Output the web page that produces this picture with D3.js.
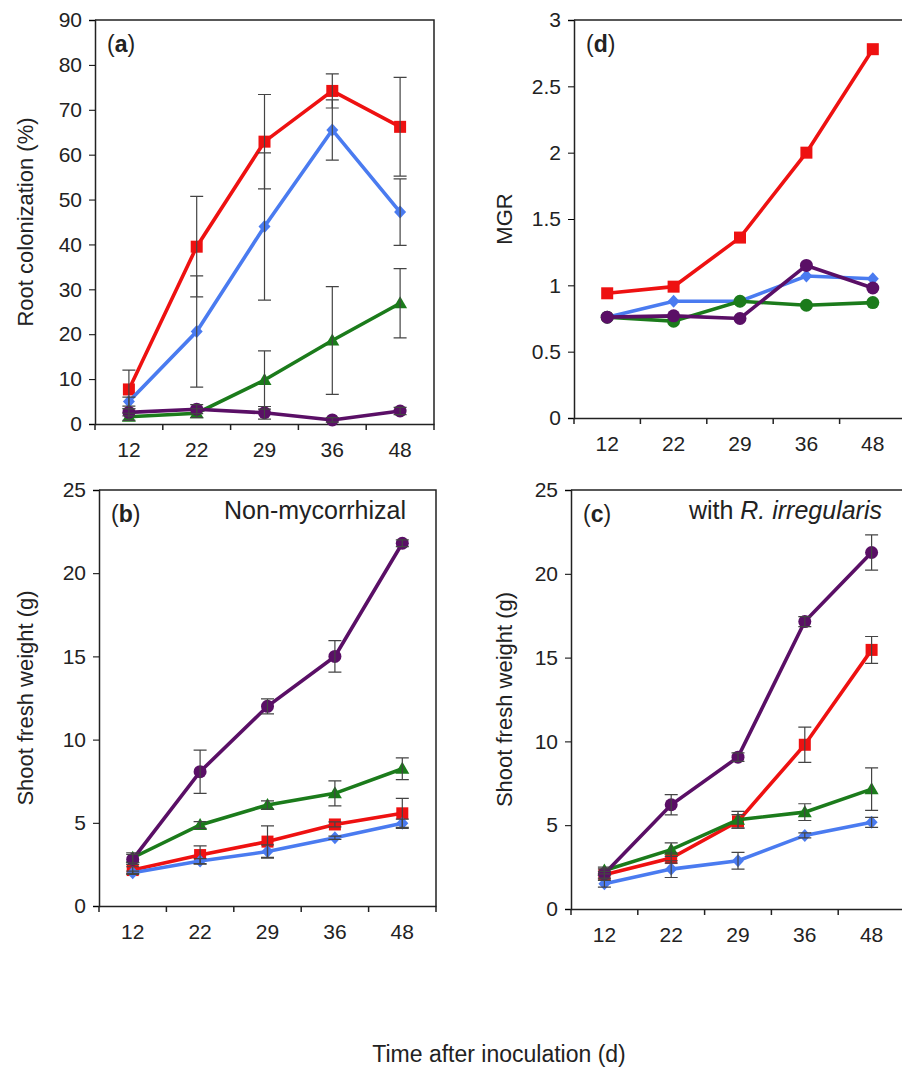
<!DOCTYPE html>
<style>
body { margin: 0; background: #fff; }
svg { font-family: "Liberation Sans", Arial, sans-serif; }
</style>
<svg width="902" height="1073"></svg>
<script src="https://cdnjs.cloudflare.com/ajax/libs/d3/7.8.5/d3.min.js"></script>
<script>
const svg = d3.select("svg");

const days = ["12", "22", "29", "36", "48"];

// (a) root colonization (%)
const aRed = [7.7, 39.5, 62.9, 74.2, 66.2];
const aRedErr = [4.3, 11.2, 10.5, 3.8, 11.0];
const aBlue = [5.0, 20.6, 44.0, 65.5, 47.2];
const aBlueErr = [1.0, 12.4, 16.4, 6.7, 7.4];
const aGreen = [1.6, 2.4, 9.8, 18.6, 26.9];
const aGreenErr = [0.8, 1.0, 6.5, 12.0, 7.7];
const aPurple = [2.6, 3.3, 2.5, 0.9, 2.9];
const aPurpleErr = [0.8, 1.0, 1.4, 0.5, 0.8];

// (d) MGR
const dRed = [0.94, 0.99, 1.36, 2.0, 2.78];
const dBlue = [0.76, 0.88, 0.88, 1.07, 1.05];
const dGreen = [0.76, 0.73, 0.88, 0.85, 0.87];
const dPurple = [0.76, 0.77, 0.75, 1.15, 0.98];

// (b) shoot fresh weight, non-mycorrhizal
const bRed = [2.16, 3.06, 3.87, 4.9, 5.57];
const bRedErr = [0.2, 0.55, 0.95, 0.15, 0.9];
const bBlue = [2.0, 2.7, 3.27, 4.1, 4.97];
const bBlueErr = [0.1, 0.15, 0.4, 0.1, 0.25];
const bGreen = [2.9, 4.87, 6.07, 6.77, 8.25];
const bGreenErr = [0.3, 0.2, 0.25, 0.75, 0.65];
const bPurple = [2.8, 8.07, 12.0, 15.0, 21.8];
const bPurpleErr = [0.3, 1.3, 0.45, 0.95, 0.2];

// (c) shoot fresh weight, with R. irregularis
const cRed = [2.05, 3.04, 5.23, 9.8, 15.46];
const cRedErr = [0.2, 0.3, 0.4, 1.05, 0.8];
const cBlue = [1.51, 2.38, 2.88, 4.39, 5.17];
const cBlueErr = [0.2, 0.5, 0.5, 0.15, 0.3];
const cGreen = [2.3, 3.54, 5.33, 5.78, 7.15];
const cGreenErr = [0.2, 0.4, 0.5, 0.5, 1.27];
const cPurple = [2.1, 6.22, 9.06, 17.15, 21.27];
const cPurpleErr = [0.3, 0.6, 0.25, 0.3, 1.05];

const colors = { red: "#ee1111", blue: "#4a7bf0", green: "#1b7b1b", purple: "#5a0f66" };

function marker(g, shape, color) {
	if (shape === "square") {
		g.append("rect").attr("x", -6).attr("y", -6).attr("width", 12).attr("height", 12).attr("fill", color);
	} else if (shape === "diamond") {
		g.append("path").attr("d", "M0,-6.5L6,0L0,6.5L-6,0Z").attr("fill", color);
	} else if (shape === "triangle") {
		g.append("path").attr("d", "M0,-7L7,5L-7,5Z").attr("fill", color);
	} else {
		g.append("circle").attr("r", 6.5).attr("fill", color);
	}
}

function panel(p) {
	const x = d3.scaleBand().domain(days).range([p.left, p.right]);
	const y = d3.scaleLinear().domain([0, p.max]).range([p.bottom, p.top]);
	const g = svg.append("g");

	// frame
	g.append("path")
		.attr("d", `M${p.left},${p.top}H${p.right}V${p.bottom}`)
		.attr("fill", "none").attr("stroke", "#222").attr("stroke-width", 1.5);

	const yAxis = g.append("g")
		.attr("transform", `translate(${p.left},0)`)
		.call(d3.axisLeft(y).tickValues(p.ticks).tickSize(6).tickPadding(7).tickFormat(d => String(d)));
	yAxis.selectAll("text").attr("font-size", 21).attr("fill", "#222");

	const xAxis = g.append("g")
		.attr("transform", `translate(0,${p.bottom})`)
		.call(d3.axisBottom(x).tickSize(0).tickPadding(14));
	xAxis.selectAll(".tick").remove();
	xAxis.selectAll(".lbl").data(days).enter().append("text")
		.attr("x", d => x(d) + x.bandwidth() / 2).attr("y", 33)
		.attr("text-anchor", "middle").attr("font-size", 21).attr("fill", "#222")
		.text(d => d);
	xAxis.selectAll(".bt").data(days.concat(["end"])).enter().append("line")
		.attr("x1", d => d === "end" ? p.right : x(d)).attr("x2", d => d === "end" ? p.right : x(d))
		.attr("y1", 0).attr("y2", 6).attr("stroke", "#222").attr("stroke-width", 1.5);
	g.selectAll(".domain").attr("stroke", "#222").attr("stroke-width", 1.5);

	const cx = d => x(d) + x.bandwidth() / 2;
	const line = d3.line().x(d => cx(d.day)).y(d => y(d.v));

	p.series.forEach(s => {
		const pts = days.map((d, i) => ({ day: d, v: s.values[i] }));
		g.append("path").datum(pts)
			.attr("d", line).attr("fill", "none")
			.attr("stroke", colors[s.color]).attr("stroke-width", 3.6);
		pts.forEach(pt => marker(g.append("g").attr("transform", `translate(${cx(pt.day)},${y(pt.v)})`), s.shape, colors[s.color]));
	});

	// error bars on top
	p.series.forEach(s => {
		if (!s.err) return;
		days.forEach((d, i) => {
			const hi = y(s.values[i] + s.err[i]), lo = y(Math.max(0, s.values[i] - s.err[i]));
			g.append("path")
				.attr("d", `M${cx(d)},${hi}V${lo}M${cx(d) - 6.5},${hi}h13M${cx(d) - 6.5},${lo}h13`)
				.attr("fill", "none").attr("stroke", "#444").attr("stroke-width", 1.2);
		});
	});

	g.append("text")
		.attr("transform", `translate(${p.titleX},${(p.top + p.bottom) / 2}) rotate(-90)`)
		.attr("text-anchor", "middle").attr("font-size", 22).attr("fill", "#222")
		.text(p.title);

	const lab = g.append("text").attr("x", p.left + 12).attr("y", p.top + 32).attr("font-size", 23).attr("fill", "#222");
	lab.append("tspan").text("(");
	lab.append("tspan").attr("font-weight", "bold").text(p.label);
	lab.append("tspan").text(")");

	if (p.note) {
		const t = g.append("text").attr("x", p.noteX).attr("y", p.top + 29)
			.attr("text-anchor", "end").attr("font-size", 25).attr("fill", "#222");
		p.note.forEach(n => t.append("tspan").attr("font-style", n.italic ? "italic" : null).text(n.text));
	}
}

panel({
	left: 95, right: 434, top: 20, bottom: 424, max: 90,
	ticks: d3.range(0, 91, 10), title: "Root colonization (%)", titleX: 33, label: "a",
	series: [
		{ values: aRed, err: aRedErr, color: "red", shape: "square" },
		{ values: aBlue, err: aBlueErr, color: "blue", shape: "diamond" },
		{ values: aGreen, err: aGreenErr, color: "green", shape: "triangle" },
		{ values: aPurple, err: aPurpleErr, color: "purple", shape: "circle" }
	]
});

panel({
	left: 574, right: 906, top: 20, bottom: 418, max: 3,
	ticks: [0, 0.5, 1, 1.5, 2, 2.5, 3], title: "MGR", titleX: 512, label: "d",
	series: [
		{ values: dRed, color: "red", shape: "square" },
		{ values: dBlue, color: "blue", shape: "diamond" },
		{ values: dGreen, color: "green", shape: "circle" },
		{ values: dPurple, color: "purple", shape: "circle" }
	]
});

panel({
	left: 99, right: 436, top: 490, bottom: 906, max: 25,
	ticks: [0, 5, 10, 15, 20, 25], title: "Shoot fresh weight (g)", titleX: 33, label: "b",
	note: [{ text: "Non-mycorrhizal" }], noteX: 406,
	series: [
		{ values: bRed, err: bRedErr, color: "red", shape: "square" },
		{ values: bBlue, err: bBlueErr, color: "blue", shape: "diamond" },
		{ values: bGreen, err: bGreenErr, color: "green", shape: "triangle" },
		{ values: bPurple, err: bPurpleErr, color: "purple", shape: "circle" }
	]
});

panel({
	left: 571, right: 905, top: 490, bottom: 909, max: 25,
	ticks: [0, 5, 10, 15, 20, 25], title: "Shoot fresh weight (g)", titleX: 512, label: "c",
	note: [{ text: "with " }, { text: "R. irregularis", italic: true }], noteX: 882,
	series: [
		{ values: cRed, err: cRedErr, color: "red", shape: "square" },
		{ values: cBlue, err: cBlueErr, color: "blue", shape: "diamond" },
		{ values: cGreen, err: cGreenErr, color: "green", shape: "triangle" },
		{ values: cPurple, err: cPurpleErr, color: "purple", shape: "circle" }
	]
});

svg.append("text")
	.attr("x", 499).attr("y", 1062)
	.attr("text-anchor", "middle").attr("font-size", 23).attr("fill", "#222")
	.text("Time after inoculation (d)");
</script>
